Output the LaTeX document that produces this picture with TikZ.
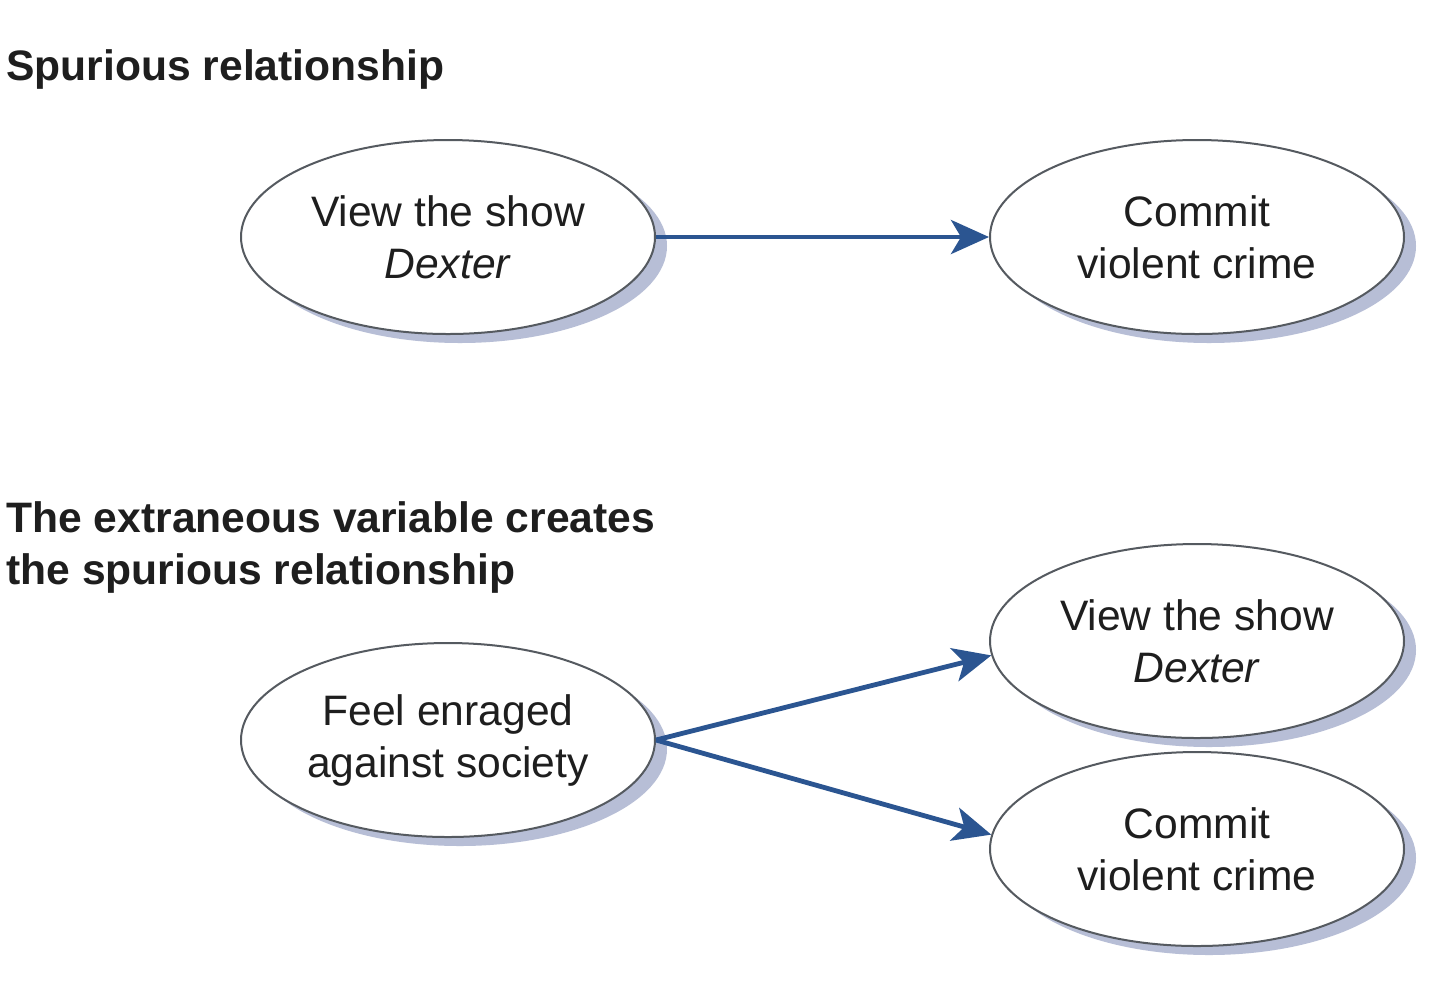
\documentclass[tikz,border=0pt]{standalone}
\usepackage{fontspec}
\setmainfont{Liberation Sans}
\usetikzlibrary{shapes.geometric,arrows.meta,shadows}
\definecolor{arrowc}{HTML}{2B5591}
\definecolor{shadowc}{HTML}{B7BED6}
\definecolor{edgec}{HTML}{555A60}
\definecolor{textc}{HTML}{1E1E1E}
\begin{document}
\begin{tikzpicture}[x=0.5pt,y=-0.5pt,
  oval/.style={ellipse,draw=edgec,line width=1pt,fill=white,
    minimum width=207pt,minimum height=97pt,inner sep=0pt,align=center,
    text=textc,font=\fontsize{21.3pt}{26pt}\selectfont,
    drop shadow={shadow xshift=6pt,shadow yshift=-4.5pt,fill=shadowc,opacity=1}},
  heading/.style={anchor=north west,inner sep=0pt,align=left,text=textc,
    font=\fontsize{21.3pt}{26pt}\selectfont\bfseries},
  link/.style={draw=arrowc,line width=2.4pt,-{Stealth[length=19pt,width=17pt,inset=5pt]}}]
\useasboundingbox (0,0) rectangle (1440,993);
\fill[white] (0,0) rectangle (1440,993);
\node[heading] (h1) at (6,49) {Spurious relationship};
\node[oval] (a1) at (448,237) {View the show\\\textit{Dexter}};
\node[oval] (b1) at (1197,237) {Commit\\violent crime};
\draw[link] (a1.east) -- (b1.west);
\node[heading] (h2) at (6,501) {The extraneous variable creates\\the spurious relationship};
\node[oval] (f) at (448,740) {Feel enraged\\against society};
\node[oval] (v2) at (1197,641) {View the show\\\textit{Dexter}};
\node[oval] (c2) at (1197,849) {Commit\\violent crime};
\draw[link] (f.east) -- (v2.184);
\draw[link] (f.east) -- (c2.176);
\end{tikzpicture}
\end{document}
